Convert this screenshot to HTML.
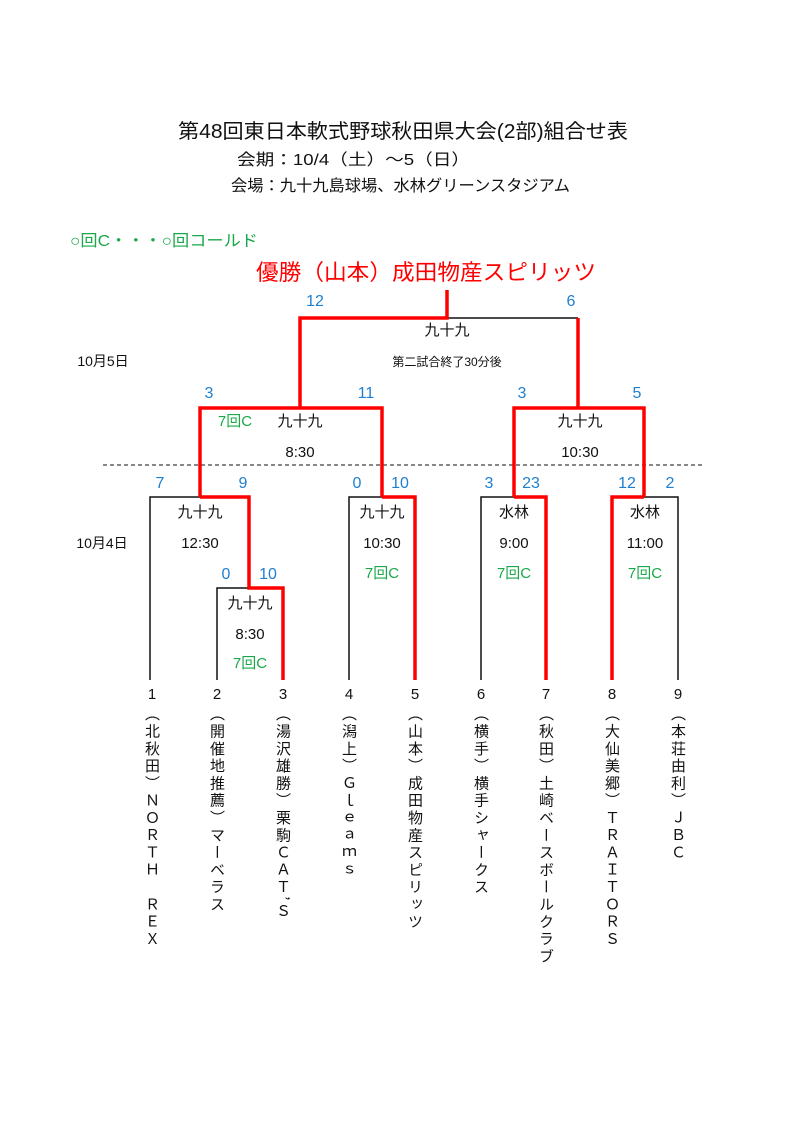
<!DOCTYPE html>
<html><head><meta charset="utf-8"><style>
body{margin:0;background:#fff;}
#c{position:relative;width:800px;height:1131px;overflow:hidden;font-family:"Liberation Sans","Noto Sans CJK JP",sans-serif;}
.v{position:absolute;top:706px;writing-mode:vertical-rl;font-family:"Noto Sans CJK JP",sans-serif;font-size:15px;line-height:17px;letter-spacing:2.3px;color:#111;width:17px;}
</style></head><body><div id="c">
<svg width="800" height="1131" style="position:absolute;left:0;top:0" font-family="Liberation Sans, Noto Sans CJK JP, sans-serif">
<text x="178" y="138" font-size="20" fill="#111" textLength="450" lengthAdjust="spacingAndGlyphs">第48回東日本軟式野球秋田県大会(2部)組合せ表</text>
<text x="237" y="165" font-size="16" fill="#111" textLength="233" lengthAdjust="spacingAndGlyphs">会期：10/4（土）～5（日）</text>
<text x="231" y="191" font-size="16" fill="#111" textLength="339" lengthAdjust="spacingAndGlyphs">会場：九十九島球場、水林グリーンスタジアム</text>
<text x="70" y="246" font-size="16" fill="#1aa84a" textLength="188" lengthAdjust="spacingAndGlyphs">○回C・・・○回コールド</text>
<text x="256" y="280" font-size="22" fill="#f00" textLength="340" lengthAdjust="spacingAndGlyphs">優勝（山本）成田物産スピリッツ</text>
<g fill="#1e7fd0" font-size="16" text-anchor="middle">
<text x="315" y="306">12</text><text x="571" y="306">6</text>
<text x="209" y="398">3</text><text x="366" y="398">11</text><text x="522" y="398">3</text><text x="637" y="398">5</text>
<text x="160" y="488">7</text><text x="243" y="488">9</text><text x="357" y="488">0</text><text x="400" y="488">10</text>
<text x="489" y="488">3</text><text x="531" y="488">23</text><text x="627" y="488">12</text><text x="670" y="488">2</text>
<text x="226" y="579">0</text><text x="268" y="579">10</text>
</g>
<g fill="#111" font-size="15" text-anchor="middle">
<text x="447" y="335">九十九</text>
<text x="447" y="366" font-size="12">第二試合終了30分後</text>
<text x="103" y="366" font-size="14">10月5日</text>
<text x="300" y="426">九十九</text><text x="300" y="457">8:30</text>
<text x="580" y="426">九十九</text><text x="580" y="457">10:30</text>
<text x="102" y="548" font-size="14">10月4日</text>
<text x="200" y="517">九十九</text><text x="200" y="548">12:30</text>
<text x="250" y="608">九十九</text><text x="250" y="639">8:30</text>
<text x="382" y="517">九十九</text><text x="382" y="548">10:30</text>
<text x="514" y="517">水林</text><text x="514" y="548">9:00</text>
<text x="645" y="517">水林</text><text x="645" y="548">11:00</text>
<text x="152" y="699">1</text><text x="217" y="699">2</text><text x="283" y="699">3</text>
<text x="349" y="699">4</text><text x="415" y="699">5</text><text x="481" y="699">6</text>
<text x="546" y="699">7</text><text x="612" y="699">8</text><text x="678" y="699">9</text>
</g>
<g fill="#1aa84a" font-size="15" text-anchor="middle">
<text x="235" y="426">7回C</text>
<text x="250" y="668">7回C</text>
<text x="382" y="578">7回C</text>
<text x="514" y="578">7回C</text>
<text x="645" y="578">7回C</text>
</g>
<line x1="103" y1="465" x2="705" y2="465" stroke="#111" stroke-width="1" stroke-dasharray="4,3"/>
<g stroke="#111" stroke-width="1.5" fill="none">
<line x1="447" y1="318" x2="578" y2="318"/>
<line x1="200" y1="408" x2="300" y2="408"/>
<line x1="514" y1="408" x2="578" y2="408"/>
<polyline points="150,680 150,497 200,497"/>
<polyline points="217,680 217,588 249,588"/>
<polyline points="349,680 349,497 382,497"/>
<polyline points="481,680 481,497 514,497"/>
<polyline points="644,497 678,497 678,680"/>
</g>
<g stroke="#f00" stroke-width="3.5" fill="none" stroke-linejoin="miter">
<polyline points="447,290 447,318 300,318 300,408"/>
<polyline points="578,318 578,408"/>
<polyline points="200,497 200,408 382,408 382,497"/>
<polyline points="514,497 514,408 644,408 644,497"/>
<polyline points="200,497 249,497 249,588 283,588 283,680"/>
<polyline points="382,497 415,497 415,680"/>
<polyline points="514,497 546,497 546,680"/>
<polyline points="644,497 612,497 612,680"/>
</g>
</svg>
<div class="v" style="left:144px">（北秋田）ＮＯＲＴＨ　ＲＥＸ</div>
<div class="v" style="left:209px">（開催地推薦）マーベラス</div>
<div class="v" style="left:275px">（湯沢雄勝）栗駒ＣＡＴ’Ｓ</div>
<div class="v" style="left:341px">（潟上）Ｇｌｅａｍｓ</div>
<div class="v" style="left:407px">（山本）成田物産スピリッツ</div>
<div class="v" style="left:473px">（横手）横手シャークス</div>
<div class="v" style="left:538px">（秋田）土崎ベースボールクラブ</div>
<div class="v" style="left:604px">（大仙美郷）ＴＲＡＩＴＯＲＳ</div>
<div class="v" style="left:670px">（本荘由利）ＪＢＣ</div>
</div></body></html>
